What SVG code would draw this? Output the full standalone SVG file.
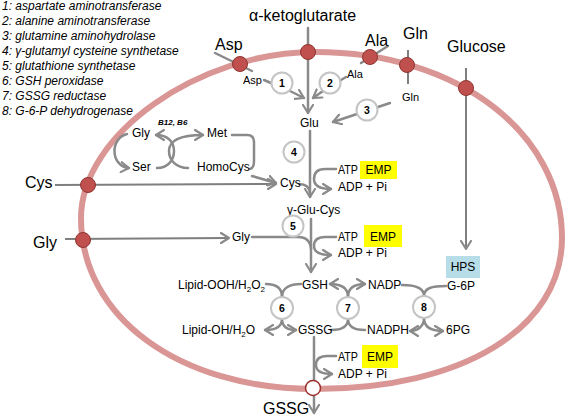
<svg xmlns="http://www.w3.org/2000/svg" width="567" height="420" viewBox="0 0 567 420">
<style>
text{font-family:"Liberation Sans",Arial,sans-serif;fill:#000}
.lg{font-size:12px;font-style:italic}
.big{font-size:16px}
.lb{font-size:12px}
.sm{font-size:11px}
.num{font-size:10.5px;font-weight:bold;text-anchor:middle}
.mid{text-anchor:middle}
.ln{fill:none;stroke:#8a8a8a;stroke-width:2.5;stroke-linecap:round}
.ln2{fill:none;stroke:#7f7f7f;stroke-width:2}
.enz{fill:#fff;stroke:#c4c4c4;stroke-width:2}
.dot{fill:#c0504d;stroke:#8e3431;stroke-width:1}
.emp{fill:#ffff00}
.hps{fill:#b7dde8}
</style>
<defs>
<marker id="ah" viewBox="0 0 10 12" refX="9" refY="6" markerWidth="10" markerHeight="12" markerUnits="userSpaceOnUse" orient="auto">
<path d="M1,1 L9,6 L1,11" fill="none" stroke="#8a8a8a" stroke-width="2.2" stroke-linecap="round" stroke-linejoin="round"/>
</marker>
</defs>
<rect width="567" height="420" fill="#fff"/>

<g id="legend" class="lg">
<text x="2" y="10">1: aspartate aminotransferase</text>
<text x="2" y="25">2: alanine aminotransferase</text>
<text x="2" y="40">3: glutamine aminohydrolase</text>
<text x="2" y="55">4: γ-glutamyl cysteine synthetase</text>
<text x="2" y="70">5: glutathione synthetase</text>
<text x="2" y="85">6: GSH peroxidase</text>
<text x="2" y="100">7: GSSG reductase</text>
<text x="2" y="115">8: G-6-P dehydrogenase</text>
</g>

<g id="cell">
<path d="M315,52 C460,52 562,135 562,238 C562,328 463,389 315,389 C179,389 81,317 81,218 C81,135 198,52 315,52 Z" fill="none" stroke="#d99694" stroke-width="6"/>
</g>

<g id="connectors">
<line class="ln" x1="308" y1="28" x2="308" y2="113" marker-end="url(#ah)"/>
<line class="ln" x1="215" y1="53" x2="252" y2="71"/>
<line class="ln" x1="264" y1="80" x2="271" y2="83"/>
<line class="ln" x1="290" y1="91" x2="304" y2="98" marker-end="url(#ah)"/>
<line class="ln" x1="388" y1="46" x2="361" y2="63"/>
<line class="ln" x1="346" y1="77" x2="341" y2="80"/>
<line class="ln" x1="323" y1="91" x2="313" y2="98" marker-end="url(#ah)"/>
<line class="ln2" x1="408" y1="50" x2="408" y2="84"/>
<line class="ln" x1="390" y1="103" x2="378" y2="107"/>
<line class="ln" x1="357" y1="114" x2="333" y2="122" marker-end="url(#ah)"/>
<line class="ln" x1="310" y1="131" x2="310" y2="197" marker-end="url(#ah)"/>
<path class="ln" d="M299,184 Q309,184 310,193"/>
<path class="ln" d="M336,169 H325 Q314,169 314,179 Q314,189 331,189" marker-end="url(#ah)"/>
<line class="ln2" x1="55" y1="185" x2="276" y2="184" marker-end="url(#ah)"/>
<line class="ln" x1="252" y1="176" x2="276" y2="183" marker-end="url(#ah)"/>
<line class="ln2" x1="65" y1="239" x2="229" y2="238" marker-end="url(#ah)"/>
<path class="ln" d="M252,237 H298 Q310,237 311,249"/>
<path class="ln" d="M336,237 H325 Q314,237 314,246 Q314,255 331,255" marker-end="url(#ah)"/>
<line class="ln" x1="311" y1="219" x2="311" y2="272" marker-end="url(#ah)"/>
<path class="ln" d="M266,284 C276,284 282,288 282,297"/>
<path class="ln" d="M301,284 C290,284 282,288 282,297"/>
<path class="ln" d="M282,319 C282,327 276,330 265,330" marker-end="url(#ah)"/>
<path class="ln" d="M282,319 C282,327 288,330 296,330" marker-end="url(#ah)"/>
<path class="ln" d="M348,297 C348,288 342,284 330,284" marker-end="url(#ah)"/>
<path class="ln" d="M348,297 C348,288 354,284 365,284" marker-end="url(#ah)"/>
<path class="ln" d="M331,330 C342,330 348,327 348,319"/>
<path class="ln" d="M365,330 C354,330 348,327 348,319"/>
<path class="ln" d="M402,285 C416,285 424,288 424,296"/>
<path class="ln" d="M446,286 C432,286 424,288 424,296"/>
<path class="ln" d="M424,318 C424,326 418,331 410,331" marker-end="url(#ah)"/>
<path class="ln" d="M424,318 C424,326 430,331 443,331" marker-end="url(#ah)"/>
<line class="ln" x1="314" y1="337" x2="314" y2="413" marker-end="url(#ah)"/>
<path class="ln" d="M336,356 H327 Q316,356 316,365 Q316,374 332,374" marker-end="url(#ah)"/>
<line class="ln2" x1="466" y1="68" x2="466" y2="249" marker-end="url(#ah)"/>
<path class="ln" d="M127,134 C110,138 110,166 129,168" marker-end="url(#ah)"/>
<path class="ln" d="M157,168 C168,168 174,160 174,151 C174,142 168,135 156,135" marker-end="url(#ah)"/>
<path class="ln" d="M188,168 C176,168 169,160 169,151 C169,142 178,135 203,135" marker-end="url(#ah)"/>
<path class="ln" d="M232,135 H247 Q254,135 254,142 V161 Q254,168 250,169"/>
</g>

<g id="transporters">
<circle class="dot" cx="240" cy="64" r="7.5"/>
<circle class="dot" cx="308" cy="52" r="7.5"/>
<circle class="dot" cx="370" cy="57" r="7.5"/>
<circle class="dot" cx="407" cy="65" r="7.5"/>
<circle class="dot" cx="466" cy="88" r="7.5"/>
<circle class="dot" cx="88" cy="185" r="7.5"/>
<circle class="dot" cx="83" cy="240" r="7.5"/>
<circle cx="313" cy="388" r="7.5" fill="#fff" stroke="#9a2f2c" stroke-width="1.5"/>
</g>

<g id="ext-akg"><text class="big" x="249" y="21">α-ketoglutarate</text></g>
<g id="ext-asp"><text class="big" x="215" y="50">Asp</text></g>
<g id="ext-ala"><text class="big" x="365" y="46">Ala</text></g>
<g id="ext-gln"><text class="big" x="403" y="39">Gln</text></g>
<g id="ext-glucose"><text class="big" x="447" y="52">Glucose</text></g>
<g id="ext-cys"><text class="big" x="25" y="188">Cys</text></g>
<g id="ext-gly"><text class="big" x="33" y="248">Gly</text></g>
<g id="ext-gssg"><text class="big" x="263" y="414">GSSG</text></g>

<g id="asp"><text class="sm" x="243" y="84">Asp</text></g>
<g id="ala"><text class="sm" x="347" y="78">Ala</text></g>
<g id="gln"><text class="sm" x="402" y="101">Gln</text></g>
<g id="glu"><text class="lb" x="300" y="127">Glu</text></g>
<g id="cys"><text class="lb" x="280" y="187">Cys</text></g>
<g id="ggc"><text class="lb" x="287" y="214">γ-Glu-Cys</text></g>
<g id="gly"><text class="lb" x="232" y="241">Gly</text></g>
<g id="gsh"><text class="lb" x="302" y="289">GSH</text></g>
<g id="gssg"><text class="lb" x="298" y="334">GSSG</text></g>
<g id="lipid-ooh"><text class="lb" x="178" y="289">Lipid-OOH/H<tspan font-size="8" dy="3">2</tspan><tspan dy="-3">O</tspan><tspan font-size="8" dy="3">2</tspan></text></g>
<g id="lipid-oh"><text class="lb" x="182" y="334">Lipid-OH/H<tspan font-size="8" dy="3">2</tspan><tspan dy="-3">O</tspan></text></g>
<g id="nadp"><text class="lb" x="368" y="289">NADP</text></g>
<g id="nadph"><text class="lb" x="367" y="334">NADPH</text></g>
<g id="g6p"><text class="lb" x="447" y="290">G-6P</text></g>
<g id="6pg"><text class="lb" x="446" y="334">6PG</text></g>
<g id="hps"><rect class="hps" x="446" y="256" width="34" height="22"/><text class="lb mid" x="463" y="271">HPS</text></g>

<g id="gly-c"><text class="lb" x="132" y="137">Gly</text></g>
<g id="ser"><text class="lb" x="132" y="171">Ser</text></g>
<g id="met"><text class="lb" x="207" y="137">Met</text></g>
<g id="homocys"><text class="lb" x="197" y="171">HomoCys</text></g>
<g id="cofactors"><text x="158" y="125" font-size="8" font-style="italic" font-weight="bold">B12, B6</text></g>

<g id="atp1"><text class="lb" x="338" y="174" textLength="20" lengthAdjust="spacingAndGlyphs">ATP</text><rect class="emp" x="360" y="161" width="37" height="18"/><text class="lb mid" x="378.5" y="174">EMP</text><text class="lb" x="338" y="191">ADP + Pi</text></g>
<g id="atp2"><text class="lb" x="338" y="241" textLength="20" lengthAdjust="spacingAndGlyphs">ATP</text><rect class="emp" x="364" y="225" width="38" height="22"/><text class="lb mid" x="383" y="241">EMP</text><text class="lb" x="338" y="257">ADP + Pi</text></g>
<g id="atp3"><text class="lb" x="338" y="361" textLength="20" lengthAdjust="spacingAndGlyphs">ATP</text><rect class="emp" x="362" y="345" width="36" height="23"/><text class="lb mid" x="380" y="361">EMP</text><text class="lb" x="338" y="378">ADP + Pi</text></g>

<g id="enz1"><circle class="enz" cx="282" cy="83" r="10.5"/><text class="num" x="282" y="87">1</text></g>
<g id="enz2"><circle class="enz" cx="330" cy="83" r="10.5"/><text class="num" x="330" y="87">2</text></g>
<g id="enz3"><circle class="enz" cx="367" cy="110" r="10.5"/><text class="num" x="367" y="114">3</text></g>
<g id="enz4"><circle class="enz" cx="294" cy="152" r="10.5"/><text class="num" x="294" y="156">4</text></g>
<g id="enz5"><circle class="enz" cx="293" cy="226" r="10.5"/><text class="num" x="293" y="230">5</text></g>
<g id="enz6"><circle class="enz" cx="282" cy="308" r="11"/><text class="num" x="282" y="312">6</text></g>
<g id="enz7"><circle class="enz" cx="348" cy="308" r="11"/><text class="num" x="348" y="312">7</text></g>
<g id="enz8"><circle class="enz" cx="424" cy="307" r="11"/><text class="num" x="424" y="311">8</text></g>
</svg>
